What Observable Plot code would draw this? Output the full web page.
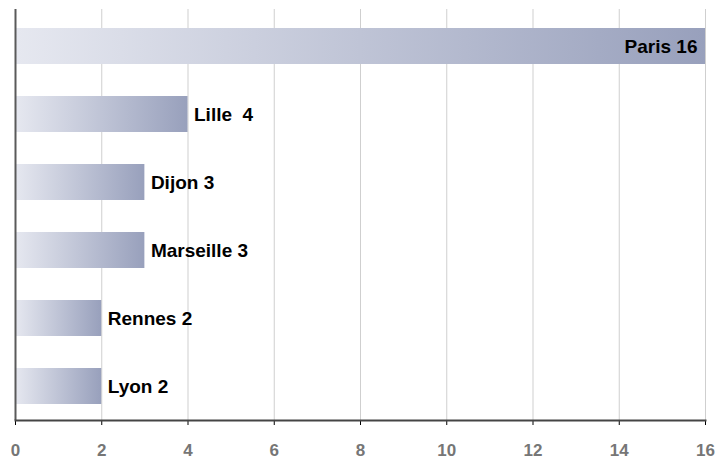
<!DOCTYPE html>
<html><head><meta charset="utf-8">
<script src="https://cdn.jsdelivr.net/npm/d3@7"></script>
<script src="https://cdn.jsdelivr.net/npm/@observablehq/plot@0.6"></script>
<style>
body{margin:0;background:#fff;}
svg text.lbl, svg .lbl text{white-space:pre;}
svg [aria-label^="x-axis"] text{font-size:17px;font-weight:bold;fill:#767676;}
</style>
</head><body><div id="chart"></div>
<script>
const cities = ["Paris", "Lille", "Dijon", "Marseille", "Rennes", "Lyon"];
const values = [16, 4, 3, 3, 2, 2];
const labels = ["Paris 16", "Lille  4", "Dijon 3", "Marseille 3", "Rennes 2", "Lyon 2"];
const xTicks = [0, 2, 4, 6, 8, 10, 12, 14, 16];

const data = cities.map((c, i) => ({city: c, value: values[i], label: labels[i]}));
const inside = data.filter(d => d.value >= 10);
const outside = data.filter(d => d.value < 10);

const chart = Plot.plot({
  width: 715, height: 461,
  marginLeft: 15, marginRight: 10, marginTop: 9, marginBottom: 41,
  style: {fontFamily: "Liberation Sans, Arial, sans-serif", background: "#fff"},
  x: {domain: [0, 16], ticks: xTicks, label: null, tickSize: 5, tickPadding: 18},
  y: {domain: cities, paddingInner: 0.475, paddingOuter: 0.233, align: 0.55, label: null, axis: null},
  marks: [
    Plot.gridX(xTicks, {stroke: "#cfcfcf", strokeOpacity: 1}),
    Plot.barX(data, {x: "value", y: "city", fill: "url(#barGrad)"}),
    Plot.text(inside, {x: "value", y: "city", text: "label", textAnchor: "end", dx: -8, fontWeight: "bold", fontSize: 19, fill: "#000", className: "lbl"}),
    Plot.text(outside, {x: "value", y: "city", text: "label", textAnchor: "start", dx: 6, fontWeight: "bold", fontSize: 19, fill: "#000", className: "lbl"}),
    Plot.ruleX([0], {stroke: "#5a5a5a", strokeWidth: 2}),
    Plot.frame({anchor: "bottom", stroke: "#444", strokeWidth: 2})
  ]
});

const defs = d3.select(chart).insert("defs", ":first-child");
const g = defs.append("linearGradient").attr("id", "barGrad").attr("x1", "0").attr("x2", "1").attr("y1", "0").attr("y2", "0");
g.append("stop").attr("offset", "0").attr("stop-color", "#e6e8f0");
g.append("stop").attr("offset", "1").attr("stop-color", "#98a0bc");

document.getElementById("chart").appendChild(chart);
</script>
</body></html>
